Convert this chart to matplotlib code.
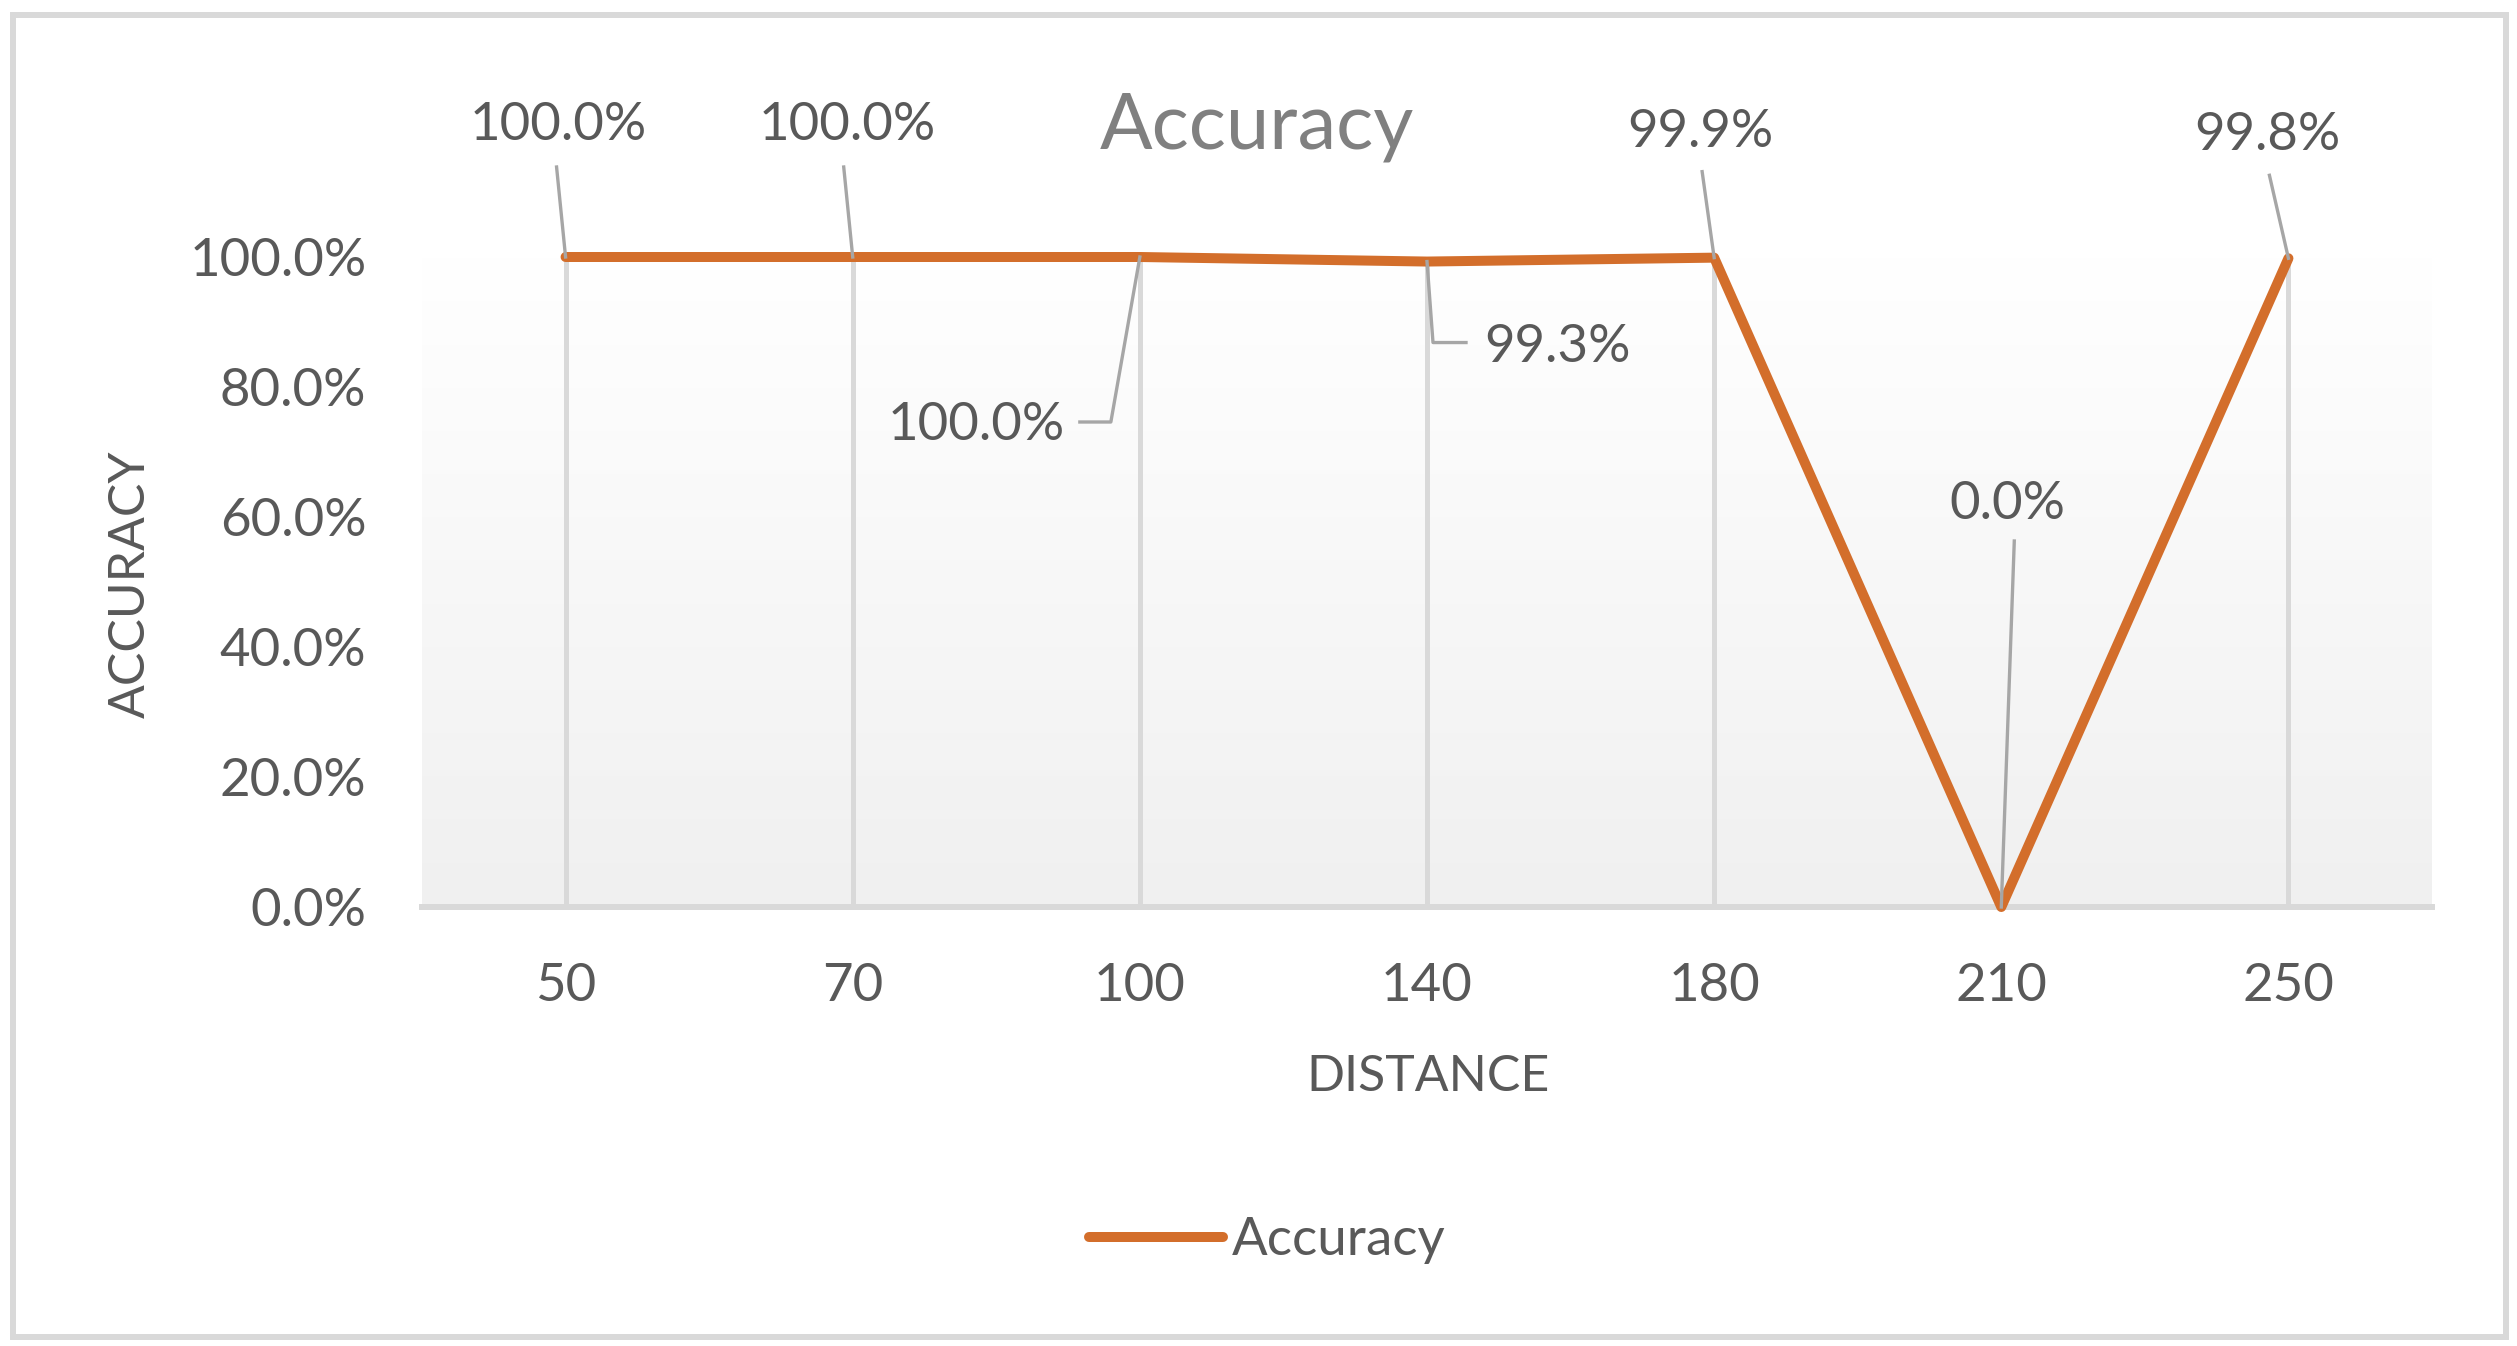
import numpy as np
import matplotlib
matplotlib.use("Agg")
import matplotlib.pyplot as plt
import matplotlib.transforms as mtransforms
from matplotlib.colors import LinearSegmentedColormap
from matplotlib.patches import Rectangle
from matplotlib.ticker import PercentFormatter

plt.rcParams['font.family'] = ['Lato', 'DejaVu Sans']

# data
distance = ['50', '70', '100', '140', '180', '210', '250']
accuracy = [1.000, 1.000, 1.000, 0.993, 0.999, 0.000, 0.998]
label_text = ['100.0%', '100.0%', '100.0%', '99.3%', '99.9%', '0.0%', '99.8%']

W, H = 2517, 1346
fig = plt.figure(figsize=(W / 100, H / 100), dpi=100)

# plot area in pixel terms (left, bottom of 0%, right, 100% line)
ax = fig.add_axes([422 / W, 1 - 907 / H, (2432 - 422) / W, (907 - 257) / H])

line_color = '#D36E2B'
text_color = '#595959'
leader_color = '#A6A6A6'
light_gray = '#D9D9D9'

xs = np.arange(len(distance))

# gradient fill of the plot area
grad = LinearSegmentedColormap.from_list('g', ['#F0F0F0', '#FFFFFF'])
ax.imshow(np.linspace(0, 1, 256).reshape(-1, 1), extent=(-0.5, len(xs) - 0.5, 0, 1),
          aspect='auto', cmap=grad, origin='lower', zorder=0)

# drop lines
ax.vlines(xs, 0, accuracy, color=light_gray, lw=3.6, zorder=2)

line, = ax.plot(xs, accuracy, color=line_color, lw=7.2, solid_capstyle='round',
                solid_joinstyle='round', clip_on=False, zorder=4, label='Accuracy')

ax.set_xlim(-0.5, len(xs) - 0.5)
ax.set_ylim(0, 1)
ax.set_xticks(xs)
ax.set_xticklabels(distance)
ax.set_yticks(np.arange(0, 1.01, 0.2))
ax.yaxis.set_major_formatter(PercentFormatter(1.0, decimals=1))
ax.tick_params(length=0, labelsize=38, labelcolor=text_color)
ax.tick_params(axis='y', pad=40)
ax.tick_params(axis='x', pad=40)
for s in ['top', 'right', 'left']:
    ax.spines[s].set_visible(False)
ax.spines['bottom'].set_color(light_gray)
ax.spines['bottom'].set_linewidth(4.3)
ax.spines['bottom'].set_zorder(3)

# data labels: text offset (px), alignment, leader path (px) relative to the point
label_style = [
    ((-7, 117), 'center', [(0, 0), (-9, 90)]),
    ((-5, 117), 'center', [(0, 0), (-9, 90)]),
    ((-75, -183), 'right', [(0, 0), (-29, -165), (-60, -165)]),
    ((57, -100), 'left', [(0, 0), (6, -81), (39, -81)]),
    ((-14, 111), 'center', [(0, 0), (-12, 86)]),
    ((6, 388), 'center', [(0, 0), (13, 366)]),
    ((-21, 108), 'center', [(0, 0), (-19, 83)]),
]
for i, (txt, (off, ha, path)) in enumerate(zip(label_text, label_style)):
    ax.annotate(txt, xy=(xs[i], accuracy[i]), xytext=off, textcoords='offset pixels',
                ha=ha, va='baseline', fontsize=38, color=text_color, zorder=6,
                annotation_clip=False)
    tr = mtransforms.ScaledTranslation(xs[i], accuracy[i], ax.transData)
    px, py = zip(*path)
    ax.plot(px, py, color=leader_color, lw=2.4, transform=tr, clip_on=False, zorder=5)

# titles
fig.text(1257 / W, 1 - 149 / H, 'Accuracy', ha='center', va='baseline',
         fontsize=56, color='#808080')
fig.text(1428 / W, 1 - 1077 / H, 'DISTANCE', ha='center', va='center',
         fontsize=36, color=text_color)
fig.text(131 / W, 1 - 584 / H, 'ACCURACY', ha='center', va='center',
         rotation=90, fontsize=36, color=text_color)

fig.legend(handles=[line], loc='center', bbox_to_anchor=(1267 / W, 1 - 1241 / H),
           frameon=False, fontsize=38, labelcolor=text_color, handlelength=2.55,
           handletextpad=0.15, borderpad=0)

# outer chart border
fig.add_artist(Rectangle((13 / W, 1 - 1337 / H), (2506 - 13) / W, (1337 - 15) / H,
                         transform=fig.transFigure, fill=False, ec=light_gray, lw=4.3))

fig.savefig('out.png', dpi=100, facecolor='white')
